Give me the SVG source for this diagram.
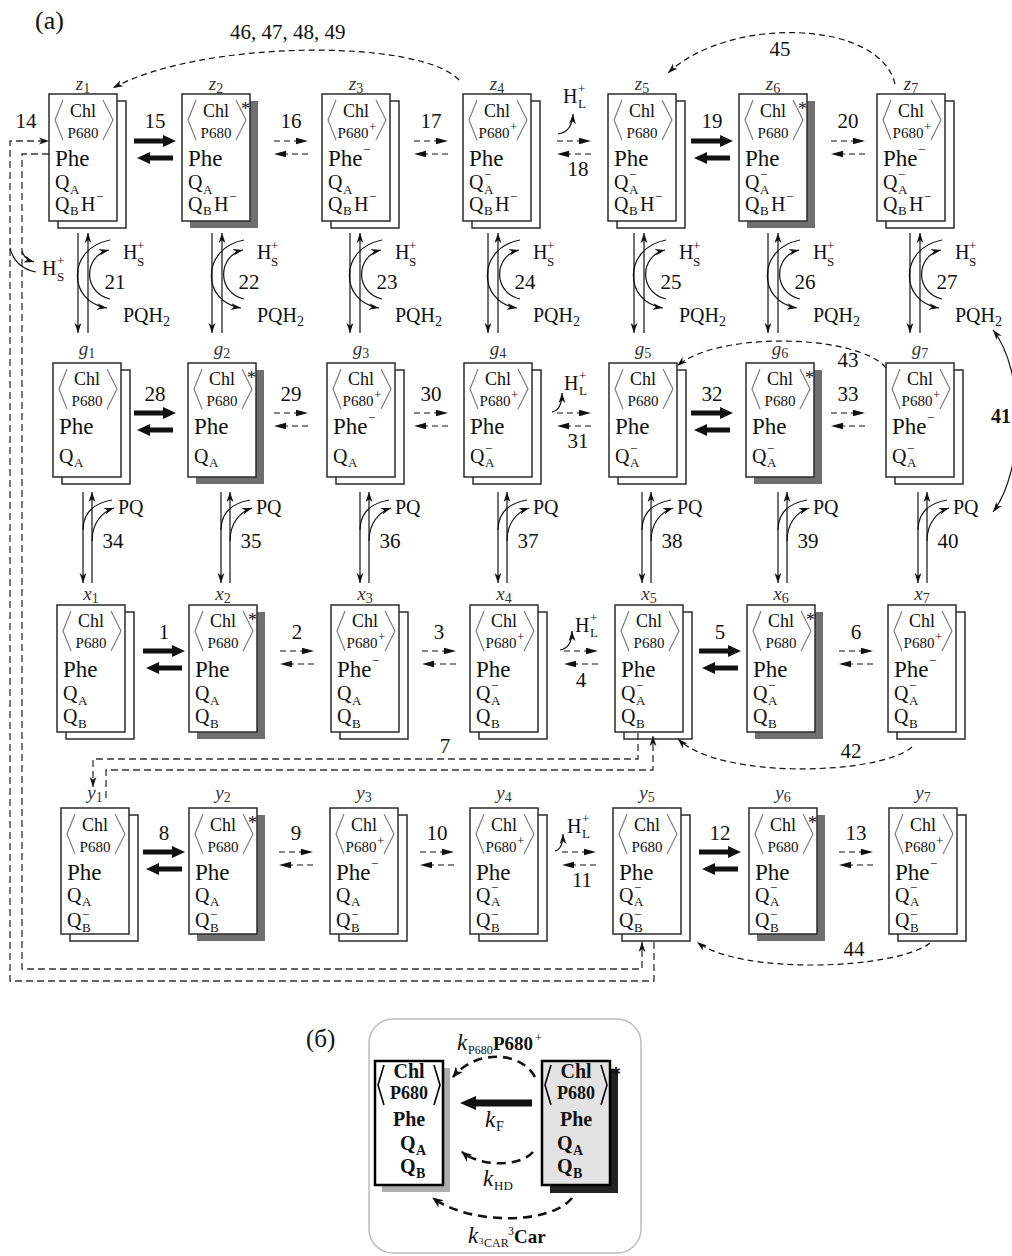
<svg xmlns="http://www.w3.org/2000/svg" width="1012" height="1256" viewBox="0 0 1012 1256">
<style>
text{font-family:"Liberation Serif","Times New Roman",serif;fill:#111}
.fr,.bk{fill:#fff;stroke:#2b2b2b;stroke-width:1.5}
.sh{fill:#6f6f6f}
.c{font-size:18px;text-anchor:middle}
.p{font-size:15px;text-anchor:middle}
.f{font-size:23px}
.q{font-size:20px}
.s{font-size:13px}
.st{font-size:18px;fill:#111}
.lb{font-size:19px;font-style:italic;fill:#333;text-anchor:middle}
.lb tspan{font-style:normal;font-size:14px}
.n{font-size:21px;text-anchor:middle}
.ln{stroke:#111;stroke-width:1.2;fill:none}
.da{stroke:#111;stroke-width:1.2;fill:none;stroke-dasharray:6 4}
.dl{stroke:#333;stroke-width:1.3;fill:none;stroke-dasharray:7 4}
.pb{font-weight:bold}
.pd{stroke:#111;stroke-width:2.6;fill:none;stroke-dasharray:9 6}
.k{font-style:italic;font-size:23px}
</style>
<defs>
<marker id="a" viewBox="0 0 10 8" markerWidth="10" markerHeight="8" refX="10" refY="4" orient="auto" markerUnits="userSpaceOnUse"><path d="M0,0.6 L10,4 L0,7.4 L2.8,4 Z" fill="#111"/></marker>
<marker id="a2" viewBox="0 0 10 8" markerWidth="10" markerHeight="8" refX="10" refY="4" orient="auto-start-reverse" markerUnits="userSpaceOnUse"><path d="M0,0.6 L10,4 L0,7.4 L2.8,4 Z" fill="#111"/></marker>
<marker id="pa" viewBox="0 0 11 9" markerWidth="11" markerHeight="9" refX="10" refY="4.5" orient="auto" markerUnits="userSpaceOnUse"><path d="M0,0 L11,4.5 L0,9 L3,4.5 Z" fill="#111"/></marker>
<path id="br" d="M14,6 L6,26 L14,46 M54,6 L64,26 L54,46" fill="none" stroke="#777" stroke-width="1.1"/>
<path id="bR" d="M-21,-2.4 H8 V-6 L21,0 L8,6 V2.4 H-21 Z" fill="#111"/>
<path id="bL" d="M18,-2.4 H-5 V-6 L-18,0 L-5,6 V2.4 H18 Z" fill="#111"/>
<g id="dR"><line x1="-17" y1="0" x2="6" y2="0" class="da"/><path d="M5,-3.2 L17,0 L5,3.2 Z" fill="#111"/></g>
<g id="dL"><line x1="17" y1="0" x2="-6" y2="0" class="da"/><path d="M-5,-3.2 L-17,0 L-5,3.2 Z" fill="#111"/></g>
</defs>
<rect width="1012" height="1256" fill="#fff"/>
<text x="35" y="29" font-size="26">(a)</text>

<!-- Row z -->
<g id="z1"><rect class="bk" x="58" y="101" width="68" height="127"/><rect class="fr" x="49" y="94" width="68" height="127"/><use href="#br" x="49" y="94"/><text class="c" x="83" y="117">Chl</text><text class="p" x="83" y="138">P680</text><text class="f" x="55" y="166">Phe</text><text class="q" x="55" y="189">Q</text><text class="s" x="70" y="194">A</text><text class="q" x="55" y="211">Q</text><text class="s" x="70" y="215">B</text><text class="q" x="81" y="211">H</text><text class="s" x="96" y="201">−</text><text class="lb" x="83" y="90">z<tspan dy="3">1</tspan></text></g>
<g id="z2"><rect class="sh" x="190" y="101" width="68" height="127"/><rect class="fr" x="182" y="94" width="68" height="127"/><use href="#br" x="182" y="94"/><text class="st" x="241" y="115">*</text><text class="c" x="216" y="117">Chl</text><text class="p" x="216" y="138">P680</text><text class="f" x="188" y="166">Phe</text><text class="q" x="188" y="189">Q</text><text class="s" x="203" y="194">A</text><text class="q" x="188" y="211">Q</text><text class="s" x="203" y="215">B</text><text class="q" x="214" y="211">H</text><text class="s" x="229" y="201">−</text><text class="lb" x="216" y="90">z<tspan dy="3">2</tspan></text></g>
<g id="z3"><rect class="bk" x="331" y="101" width="68" height="127"/><rect class="fr" x="322" y="94" width="68" height="127"/><use href="#br" x="322" y="94"/><text class="c" x="356" y="117">Chl</text><text class="p" x="353" y="138">P680</text><text class="s" x="369" y="131">+</text><text class="f" x="328" y="166">Phe</text><text class="s" x="363" y="154">−</text><text class="q" x="328" y="189">Q</text><text class="s" x="343" y="194">A</text><text class="q" x="328" y="211">Q</text><text class="s" x="343" y="215">B</text><text class="q" x="354" y="211">H</text><text class="s" x="369" y="201">−</text><text class="lb" x="356" y="90">z<tspan dy="3">3</tspan></text></g>
<g id="z4"><rect class="bk" x="472" y="101" width="68" height="127"/><rect class="fr" x="463" y="94" width="68" height="127"/><use href="#br" x="463" y="94"/><text class="c" x="497" y="117">Chl</text><text class="p" x="494" y="138">P680</text><text class="s" x="510" y="131">+</text><text class="f" x="469" y="166">Phe</text><text class="q" x="469" y="189">Q</text><text class="s" x="484" y="179">−</text><text class="s" x="484" y="194">A</text><text class="q" x="469" y="211">Q</text><text class="s" x="484" y="215">B</text><text class="q" x="495" y="211">H</text><text class="s" x="510" y="201">−</text><text class="lb" x="497" y="90">z<tspan dy="3">4</tspan></text></g>
<g id="z5"><rect class="bk" x="617" y="101" width="68" height="127"/><rect class="fr" x="608" y="94" width="68" height="127"/><use href="#br" x="608" y="94"/><text class="c" x="642" y="117">Chl</text><text class="p" x="642" y="138">P680</text><text class="f" x="614" y="166">Phe</text><text class="q" x="614" y="189">Q</text><text class="s" x="629" y="179">−</text><text class="s" x="629" y="194">A</text><text class="q" x="614" y="211">Q</text><text class="s" x="629" y="215">B</text><text class="q" x="640" y="211">H</text><text class="s" x="655" y="201">−</text><text class="lb" x="642" y="90">z<tspan dy="3">5</tspan></text></g>
<g id="z6"><rect class="sh" x="747" y="101" width="68" height="127"/><rect class="fr" x="739" y="94" width="68" height="127"/><use href="#br" x="739" y="94"/><text class="st" x="798" y="115">*</text><text class="c" x="773" y="117">Chl</text><text class="p" x="773" y="138">P680</text><text class="f" x="745" y="166">Phe</text><text class="q" x="745" y="189">Q</text><text class="s" x="760" y="179">−</text><text class="s" x="760" y="194">A</text><text class="q" x="745" y="211">Q</text><text class="s" x="760" y="215">B</text><text class="q" x="771" y="211">H</text><text class="s" x="786" y="201">−</text><text class="lb" x="773" y="90">z<tspan dy="3">6</tspan></text></g>
<g id="z7"><rect class="bk" x="886" y="101" width="68" height="127"/><rect class="fr" x="877" y="94" width="68" height="127"/><use href="#br" x="877" y="94"/><text class="c" x="911" y="117">Chl</text><text class="p" x="908" y="138">P680</text><text class="s" x="924" y="131">+</text><text class="f" x="883" y="166">Phe</text><text class="s" x="918" y="154">−</text><text class="q" x="883" y="189">Q</text><text class="s" x="898" y="179">−</text><text class="s" x="898" y="194">A</text><text class="q" x="883" y="211">Q</text><text class="s" x="898" y="215">B</text><text class="q" x="909" y="211">H</text><text class="s" x="924" y="201">−</text><text class="lb" x="911" y="90">z<tspan dy="3">7</tspan></text></g>

<!-- Row g -->
<g id="g1"><rect class="bk" x="62" y="370" width="68" height="114"/><rect class="fr" x="53" y="363" width="68" height="114"/><use href="#br" x="53" y="363"/><text class="c" x="87" y="385">Chl</text><text class="p" x="87" y="406">P680</text><text class="f" x="59" y="434">Phe</text><text class="q" x="59" y="463">Q</text><text class="s" x="74" y="467">A</text><text class="lb" x="87" y="355">g<tspan dy="3">1</tspan></text></g>
<g id="g2"><rect class="sh" x="196" y="370" width="68" height="114"/><rect class="fr" x="188" y="363" width="68" height="114"/><use href="#br" x="188" y="363"/><text class="st" x="247" y="384">*</text><text class="c" x="222" y="385">Chl</text><text class="p" x="222" y="406">P680</text><text class="f" x="194" y="434">Phe</text><text class="q" x="194" y="463">Q</text><text class="s" x="209" y="467">A</text><text class="lb" x="222" y="355">g<tspan dy="3">2</tspan></text></g>
<g id="g3"><rect class="bk" x="336" y="370" width="68" height="114"/><rect class="fr" x="327" y="363" width="68" height="114"/><use href="#br" x="327" y="363"/><text class="c" x="361" y="385">Chl</text><text class="p" x="358" y="406">P680</text><text class="s" x="374" y="399">+</text><text class="f" x="333" y="434">Phe</text><text class="s" x="368" y="422">−</text><text class="q" x="333" y="463">Q</text><text class="s" x="348" y="467">A</text><text class="lb" x="361" y="355">g<tspan dy="3">3</tspan></text></g>
<g id="g4"><rect class="bk" x="473" y="370" width="68" height="114"/><rect class="fr" x="464" y="363" width="68" height="114"/><use href="#br" x="464" y="363"/><text class="c" x="498" y="385">Chl</text><text class="p" x="495" y="406">P680</text><text class="s" x="511" y="399">+</text><text class="f" x="470" y="434">Phe</text><text class="q" x="470" y="463">Q</text><text class="s" x="485" y="453">−</text><text class="s" x="485" y="467">A</text><text class="lb" x="498" y="355">g<tspan dy="3">4</tspan></text></g>
<g id="g5"><rect class="bk" x="618" y="370" width="68" height="114"/><rect class="fr" x="609" y="363" width="68" height="114"/><use href="#br" x="609" y="363"/><text class="c" x="643" y="385">Chl</text><text class="p" x="643" y="406">P680</text><text class="f" x="615" y="434">Phe</text><text class="q" x="615" y="463">Q</text><text class="s" x="630" y="453">−</text><text class="s" x="630" y="467">A</text><text class="lb" x="643" y="355">g<tspan dy="3">5</tspan></text></g>
<g id="g6"><rect class="sh" x="754" y="370" width="68" height="114"/><rect class="fr" x="746" y="363" width="68" height="114"/><use href="#br" x="746" y="363"/><text class="st" x="805" y="384">*</text><text class="c" x="780" y="385">Chl</text><text class="p" x="780" y="406">P680</text><text class="f" x="752" y="434">Phe</text><text class="q" x="752" y="463">Q</text><text class="s" x="767" y="453">−</text><text class="s" x="767" y="467">A</text><text class="lb" x="780" y="355">g<tspan dy="3">6</tspan></text></g>
<g id="g7"><rect class="bk" x="895" y="370" width="68" height="114"/><rect class="fr" x="886" y="363" width="68" height="114"/><use href="#br" x="886" y="363"/><text class="c" x="920" y="385">Chl</text><text class="p" x="917" y="406">P680</text><text class="s" x="933" y="399">+</text><text class="f" x="892" y="434">Phe</text><text class="s" x="927" y="422">−</text><text class="q" x="892" y="463">Q</text><text class="s" x="907" y="453">−</text><text class="s" x="907" y="467">A</text><text class="lb" x="920" y="355">g<tspan dy="3">7</tspan></text></g>

<!-- Row x -->
<g id="x1"><rect class="bk" x="66" y="612" width="68" height="127"/><rect class="fr" x="57" y="605" width="68" height="127"/><use href="#br" x="57" y="605"/><text class="c" x="91" y="627">Chl</text><text class="p" x="91" y="648">P680</text><text class="f" x="63" y="677">Phe</text><text class="q" x="63" y="700">Q</text><text class="s" x="78" y="705">A</text><text class="q" x="63" y="723">Q</text><text class="s" x="78" y="728">B</text><text class="lb" x="91" y="600">x<tspan dy="3">1</tspan></text></g>
<g id="x2"><rect class="sh" x="197" y="612" width="68" height="127"/><rect class="fr" x="189" y="605" width="68" height="127"/><use href="#br" x="189" y="605"/><text class="st" x="248" y="626">*</text><text class="c" x="223" y="627">Chl</text><text class="p" x="223" y="648">P680</text><text class="f" x="195" y="677">Phe</text><text class="q" x="195" y="700">Q</text><text class="s" x="210" y="705">A</text><text class="q" x="195" y="723">Q</text><text class="s" x="210" y="728">B</text><text class="lb" x="223" y="600">x<tspan dy="3">2</tspan></text></g>
<g id="x3"><rect class="bk" x="340" y="612" width="68" height="127"/><rect class="fr" x="331" y="605" width="68" height="127"/><use href="#br" x="331" y="605"/><text class="c" x="365" y="627">Chl</text><text class="p" x="362" y="648">P680</text><text class="s" x="378" y="641">+</text><text class="f" x="337" y="677">Phe</text><text class="s" x="372" y="665">−</text><text class="q" x="337" y="700">Q</text><text class="s" x="352" y="705">A</text><text class="q" x="337" y="723">Q</text><text class="s" x="352" y="728">B</text><text class="lb" x="365" y="600">x<tspan dy="3">3</tspan></text></g>
<g id="x4"><rect class="bk" x="479" y="612" width="68" height="127"/><rect class="fr" x="470" y="605" width="68" height="127"/><use href="#br" x="470" y="605"/><text class="c" x="504" y="627">Chl</text><text class="p" x="501" y="648">P680</text><text class="s" x="517" y="641">+</text><text class="f" x="476" y="677">Phe</text><text class="q" x="476" y="700">Q</text><text class="s" x="491" y="690">−</text><text class="s" x="491" y="705">A</text><text class="q" x="476" y="723">Q</text><text class="s" x="491" y="728">B</text><text class="lb" x="504" y="600">x<tspan dy="3">4</tspan></text></g>
<g id="x5"><rect class="bk" x="624" y="612" width="68" height="127"/><rect class="fr" x="615" y="605" width="68" height="127"/><use href="#br" x="615" y="605"/><text class="c" x="649" y="627">Chl</text><text class="p" x="649" y="648">P680</text><text class="f" x="621" y="677">Phe</text><text class="q" x="621" y="700">Q</text><text class="s" x="636" y="690">−</text><text class="s" x="636" y="705">A</text><text class="q" x="621" y="723">Q</text><text class="s" x="636" y="728">B</text><text class="lb" x="649" y="600">x<tspan dy="3">5</tspan></text></g>
<g id="x6"><rect class="sh" x="755" y="612" width="68" height="127"/><rect class="fr" x="747" y="605" width="68" height="127"/><use href="#br" x="747" y="605"/><text class="st" x="806" y="626">*</text><text class="c" x="781" y="627">Chl</text><text class="p" x="781" y="648">P680</text><text class="f" x="753" y="677">Phe</text><text class="q" x="753" y="700">Q</text><text class="s" x="768" y="690">−</text><text class="s" x="768" y="705">A</text><text class="q" x="753" y="723">Q</text><text class="s" x="768" y="728">B</text><text class="lb" x="781" y="600">x<tspan dy="3">6</tspan></text></g>
<g id="x7"><rect class="bk" x="897" y="612" width="68" height="127"/><rect class="fr" x="888" y="605" width="68" height="127"/><use href="#br" x="888" y="605"/><text class="c" x="922" y="627">Chl</text><text class="p" x="919" y="648">P680</text><text class="s" x="935" y="641">+</text><text class="f" x="894" y="677">Phe</text><text class="s" x="929" y="665">−</text><text class="q" x="894" y="700">Q</text><text class="s" x="909" y="690">−</text><text class="s" x="909" y="705">A</text><text class="q" x="894" y="723">Q</text><text class="s" x="909" y="728">B</text><text class="lb" x="922" y="600">x<tspan dy="3">7</tspan></text></g>

<!-- Row y -->
<g id="y1"><rect class="bk" x="70" y="815" width="68" height="126"/><rect class="fr" x="61" y="808" width="68" height="126"/><use href="#br" x="61" y="808"/><text class="c" x="95" y="831">Chl</text><text class="p" x="95" y="852">P680</text><text class="f" x="67" y="880">Phe</text><text class="q" x="67" y="902">Q</text><text class="s" x="82" y="906">A</text><text class="q" x="67" y="927">Q</text><text class="s" x="82" y="919">−</text><text class="s" x="82" y="932">B</text><text class="lb" x="95" y="799">y<tspan dy="3">1</tspan></text></g>
<g id="y2"><rect class="sh" x="197" y="815" width="68" height="126"/><rect class="fr" x="189" y="808" width="68" height="126"/><use href="#br" x="189" y="808"/><text class="st" x="248" y="829">*</text><text class="c" x="223" y="831">Chl</text><text class="p" x="223" y="852">P680</text><text class="f" x="195" y="880">Phe</text><text class="q" x="195" y="902">Q</text><text class="s" x="210" y="906">A</text><text class="q" x="195" y="927">Q</text><text class="s" x="210" y="919">−</text><text class="s" x="210" y="932">B</text><text class="lb" x="223" y="799">y<tspan dy="3">2</tspan></text></g>
<g id="y3"><rect class="bk" x="339" y="815" width="68" height="126"/><rect class="fr" x="330" y="808" width="68" height="126"/><use href="#br" x="330" y="808"/><text class="c" x="364" y="831">Chl</text><text class="p" x="361" y="852">P680</text><text class="s" x="377" y="845">+</text><text class="f" x="336" y="880">Phe</text><text class="s" x="371" y="868">−</text><text class="q" x="336" y="902">Q</text><text class="s" x="351" y="906">A</text><text class="q" x="336" y="927">Q</text><text class="s" x="351" y="919">−</text><text class="s" x="351" y="932">B</text><text class="lb" x="364" y="799">y<tspan dy="3">3</tspan></text></g>
<g id="y4"><rect class="bk" x="479" y="815" width="68" height="126"/><rect class="fr" x="470" y="808" width="68" height="126"/><use href="#br" x="470" y="808"/><text class="c" x="504" y="831">Chl</text><text class="p" x="501" y="852">P680</text><text class="s" x="517" y="845">+</text><text class="f" x="476" y="880">Phe</text><text class="q" x="476" y="902">Q</text><text class="s" x="491" y="892">−</text><text class="s" x="491" y="906">A</text><text class="q" x="476" y="927">Q</text><text class="s" x="491" y="919">−</text><text class="s" x="491" y="932">B</text><text class="lb" x="504" y="799">y<tspan dy="3">4</tspan></text></g>
<g id="y5"><rect class="bk" x="622" y="815" width="68" height="126"/><rect class="fr" x="613" y="808" width="68" height="126"/><use href="#br" x="613" y="808"/><text class="c" x="647" y="831">Chl</text><text class="p" x="647" y="852">P680</text><text class="f" x="619" y="880">Phe</text><text class="q" x="619" y="902">Q</text><text class="s" x="634" y="892">−</text><text class="s" x="634" y="906">A</text><text class="q" x="619" y="927">Q</text><text class="s" x="634" y="919">−</text><text class="s" x="634" y="932">B</text><text class="lb" x="647" y="799">y<tspan dy="3">5</tspan></text></g>
<g id="y6"><rect class="sh" x="757" y="815" width="68" height="126"/><rect class="fr" x="749" y="808" width="68" height="126"/><use href="#br" x="749" y="808"/><text class="st" x="808" y="829">*</text><text class="c" x="783" y="831">Chl</text><text class="p" x="783" y="852">P680</text><text class="f" x="755" y="880">Phe</text><text class="q" x="755" y="902">Q</text><text class="s" x="770" y="892">−</text><text class="s" x="770" y="906">A</text><text class="q" x="755" y="927">Q</text><text class="s" x="770" y="919">−</text><text class="s" x="770" y="932">B</text><text class="lb" x="783" y="799">y<tspan dy="3">6</tspan></text></g>
<g id="y7"><rect class="bk" x="898" y="815" width="68" height="126"/><rect class="fr" x="889" y="808" width="68" height="126"/><use href="#br" x="889" y="808"/><text class="c" x="923" y="831">Chl</text><text class="p" x="920" y="852">P680</text><text class="s" x="936" y="845">+</text><text class="f" x="895" y="880">Phe</text><text class="s" x="930" y="868">−</text><text class="q" x="895" y="902">Q</text><text class="s" x="910" y="892">−</text><text class="s" x="910" y="906">A</text><text class="q" x="895" y="927">Q</text><text class="s" x="910" y="919">−</text><text class="s" x="910" y="932">B</text><text class="lb" x="923" y="799">y<tspan dy="3">7</tspan></text></g>

<g id="connectors">
<!-- row z horizontal -->
<use href="#bR" x="155" y="141"/><use href="#bL" x="155" y="158"/><text class="n" x="155" y="128">15</text>
<use href="#dR" x="291" y="141"/><use href="#dL" x="291" y="154"/><text class="n" x="291" y="128">16</text>
<use href="#dR" x="431" y="141"/><use href="#dL" x="431" y="154"/><text class="n" x="431" y="128">17</text>
<use href="#dR" x="574" y="141"/><use href="#dL" x="574" y="154"/><text class="n" x="578" y="176">18</text>
<text class="q" x="563" y="103">H</text><text class="s" x="578" y="93">+</text><text class="s" x="578" y="108">L</text><path class="ln" d="M558,134 Q572,132 573,114" marker-end="url(#a)"/>
<use href="#bR" x="712" y="141"/><use href="#bL" x="712" y="158"/><text class="n" x="712" y="128">19</text>
<use href="#dR" x="848" y="141"/><use href="#dL" x="848" y="154"/><text class="n" x="848" y="128">20</text>
<!-- row g horizontal -->
<use href="#bR" x="155" y="413"/><use href="#bL" x="155" y="430"/><text class="n" x="155" y="401">28</text>
<use href="#dR" x="291" y="413"/><use href="#dL" x="291" y="426"/><text class="n" x="291" y="401">29</text>
<use href="#dR" x="431" y="413"/><use href="#dL" x="431" y="426"/><text class="n" x="431" y="401">30</text>
<use href="#dR" x="574" y="413"/><use href="#dL" x="574" y="426"/><text class="n" x="578" y="448">31</text>
<text class="q" x="564" y="390">H</text><text class="s" x="579" y="380">+</text><text class="s" x="579" y="395">L</text><path class="ln" d="M552,412 Q562,410 562,393" marker-end="url(#a)"/>
<use href="#bR" x="712" y="413"/><use href="#bL" x="712" y="430"/><text class="n" x="712" y="401">32</text>
<use href="#dR" x="848" y="413"/><use href="#dL" x="848" y="426"/><text class="n" x="848" y="401">33</text>
<!-- row x horizontal -->
<use href="#bR" x="164" y="651"/><use href="#bL" x="164" y="668"/><text class="n" x="164" y="639">1</text>
<use href="#dR" x="297" y="651"/><use href="#dL" x="297" y="664"/><text class="n" x="297" y="639">2</text>
<use href="#dR" x="439" y="651"/><use href="#dL" x="439" y="664"/><text class="n" x="439" y="639">3</text>
<use href="#dR" x="581" y="651"/><use href="#dL" x="581" y="664"/><text class="n" x="581" y="687">4</text>
<text class="q" x="575" y="632">H</text><text class="s" x="590" y="622">+</text><text class="s" x="590" y="637">L</text><path class="ln" d="M560,650 Q572,648 572,631" marker-end="url(#a)"/>
<use href="#bR" x="720" y="651"/><use href="#bL" x="720" y="668"/><text class="n" x="720" y="639">5</text>
<use href="#dR" x="856" y="651"/><use href="#dL" x="856" y="664"/><text class="n" x="856" y="639">6</text>
<!-- row y horizontal -->
<use href="#bR" x="164" y="852"/><use href="#bL" x="164" y="869"/><text class="n" x="164" y="840">8</text>
<use href="#dR" x="296" y="852"/><use href="#dL" x="296" y="865"/><text class="n" x="296" y="840">9</text>
<use href="#dR" x="437" y="852"/><use href="#dL" x="437" y="865"/><text class="n" x="437" y="840">10</text>
<use href="#dR" x="579" y="852"/><use href="#dL" x="579" y="865"/><text class="n" x="582" y="887">11</text>
<text class="q" x="567" y="833">H</text><text class="s" x="582" y="823">+</text><text class="s" x="582" y="838">L</text><path class="ln" d="M555,851 Q563,849 563,834" marker-end="url(#a)"/>
<use href="#bR" x="720" y="852"/><use href="#bL" x="720" y="869"/><text class="n" x="720" y="840">12</text>
<use href="#dR" x="856" y="852"/><use href="#dL" x="856" y="865"/><text class="n" x="856" y="840">13</text>

<!-- z to g verticals -->
<g id="v21"><line class="ln" x1="78" y1="233" x2="78" y2="333" marker-end="url(#a)"/><line class="ln" x1="88" y1="333" x2="88" y2="233" marker-end="url(#a)"/><path class="ln" d="M110,240 C67,248 67,302 107,308" marker-end="url(#a)"/><path class="ln" d="M110,299 C83,293 83,256 109,250" marker-end="url(#a)"/><text class="q" x="123" y="259">H</text><text class="s" x="137" y="250">+</text><text class="s" x="137" y="266">S</text><text class="n" x="115" y="289">21</text><text class="q" x="123" y="322">PQH<tspan font-size="14" dy="4">2</tspan></text></g>
<g id="v22"><line class="ln" x1="212" y1="233" x2="212" y2="333" marker-end="url(#a)"/><line class="ln" x1="222" y1="333" x2="222" y2="233" marker-end="url(#a)"/><path class="ln" d="M244,240 C201,248 201,302 241,308" marker-end="url(#a)"/><path class="ln" d="M244,299 C217,293 217,256 243,250" marker-end="url(#a)"/><text class="q" x="257" y="259">H</text><text class="s" x="271" y="250">+</text><text class="s" x="271" y="266">S</text><text class="n" x="249" y="289">22</text><text class="q" x="257" y="322">PQH<tspan font-size="14" dy="4">2</tspan></text></g>
<g id="v23"><line class="ln" x1="350" y1="233" x2="350" y2="333" marker-end="url(#a)"/><line class="ln" x1="360" y1="333" x2="360" y2="233" marker-end="url(#a)"/><path class="ln" d="M382,240 C339,248 339,302 379,308" marker-end="url(#a)"/><path class="ln" d="M382,299 C355,293 355,256 381,250" marker-end="url(#a)"/><text class="q" x="395" y="259">H</text><text class="s" x="409" y="250">+</text><text class="s" x="409" y="266">S</text><text class="n" x="387" y="289">23</text><text class="q" x="395" y="322">PQH<tspan font-size="14" dy="4">2</tspan></text></g>
<g id="v24"><line class="ln" x1="488" y1="233" x2="488" y2="333" marker-end="url(#a)"/><line class="ln" x1="498" y1="333" x2="498" y2="233" marker-end="url(#a)"/><path class="ln" d="M520,240 C477,248 477,302 517,308" marker-end="url(#a)"/><path class="ln" d="M520,299 C493,293 493,256 519,250" marker-end="url(#a)"/><text class="q" x="533" y="259">H</text><text class="s" x="547" y="250">+</text><text class="s" x="547" y="266">S</text><text class="n" x="525" y="289">24</text><text class="q" x="533" y="322">PQH<tspan font-size="14" dy="4">2</tspan></text></g>
<g id="v25"><line class="ln" x1="634" y1="233" x2="634" y2="333" marker-end="url(#a)"/><line class="ln" x1="644" y1="333" x2="644" y2="233" marker-end="url(#a)"/><path class="ln" d="M666,240 C623,248 623,302 663,308" marker-end="url(#a)"/><path class="ln" d="M666,299 C639,293 639,256 665,250" marker-end="url(#a)"/><text class="q" x="679" y="259">H</text><text class="s" x="693" y="250">+</text><text class="s" x="693" y="266">S</text><text class="n" x="671" y="289">25</text><text class="q" x="679" y="322">PQH<tspan font-size="14" dy="4">2</tspan></text></g>
<g id="v26"><line class="ln" x1="768" y1="233" x2="768" y2="333" marker-end="url(#a)"/><line class="ln" x1="778" y1="333" x2="778" y2="233" marker-end="url(#a)"/><path class="ln" d="M800,240 C757,248 757,302 797,308" marker-end="url(#a)"/><path class="ln" d="M800,299 C773,293 773,256 799,250" marker-end="url(#a)"/><text class="q" x="813" y="259">H</text><text class="s" x="827" y="250">+</text><text class="s" x="827" y="266">S</text><text class="n" x="805" y="289">26</text><text class="q" x="813" y="322">PQH<tspan font-size="14" dy="4">2</tspan></text></g>
<g id="v27"><line class="ln" x1="910" y1="233" x2="910" y2="333" marker-end="url(#a)"/><line class="ln" x1="920" y1="333" x2="920" y2="233" marker-end="url(#a)"/><path class="ln" d="M942,240 C899,248 899,302 939,308" marker-end="url(#a)"/><path class="ln" d="M942,299 C915,293 915,256 941,250" marker-end="url(#a)"/><text class="q" x="955" y="259">H</text><text class="s" x="969" y="250">+</text><text class="s" x="969" y="266">S</text><text class="n" x="947" y="289">27</text><text class="q" x="955" y="322">PQH<tspan font-size="14" dy="4">2</tspan></text></g>

<!-- g to x verticals -->
<g id="v34"><line class="ln" x1="83" y1="492" x2="83" y2="583" marker-end="url(#a)"/><line class="ln" x1="92" y1="583" x2="92" y2="492" marker-end="url(#a)"/><path class="ln" d="M83,530 C83,512 95,503 112,500"/><path class="ln" d="M92,541 C92,523 102,512 114,508" marker-end="url(#a)"/><text class="q" x="118" y="514">PQ</text><text class="n" x="113" y="548">34</text></g>
<g id="v35"><line class="ln" x1="221" y1="492" x2="221" y2="583" marker-end="url(#a)"/><line class="ln" x1="230" y1="583" x2="230" y2="492" marker-end="url(#a)"/><path class="ln" d="M221,530 C221,512 233,503 250,500"/><path class="ln" d="M230,541 C230,523 240,512 252,508" marker-end="url(#a)"/><text class="q" x="256" y="514">PQ</text><text class="n" x="251" y="548">35</text></g>
<g id="v36"><line class="ln" x1="360" y1="492" x2="360" y2="583" marker-end="url(#a)"/><line class="ln" x1="369" y1="583" x2="369" y2="492" marker-end="url(#a)"/><path class="ln" d="M360,530 C360,512 372,503 389,500"/><path class="ln" d="M369,541 C369,523 379,512 391,508" marker-end="url(#a)"/><text class="q" x="395" y="514">PQ</text><text class="n" x="390" y="548">36</text></g>
<g id="v37"><line class="ln" x1="498" y1="492" x2="498" y2="583" marker-end="url(#a)"/><line class="ln" x1="507" y1="583" x2="507" y2="492" marker-end="url(#a)"/><path class="ln" d="M498,530 C498,512 510,503 527,500"/><path class="ln" d="M507,541 C507,523 517,512 529,508" marker-end="url(#a)"/><text class="q" x="533" y="514">PQ</text><text class="n" x="528" y="548">37</text></g>
<g id="v38"><line class="ln" x1="642" y1="492" x2="642" y2="583" marker-end="url(#a)"/><line class="ln" x1="651" y1="583" x2="651" y2="492" marker-end="url(#a)"/><path class="ln" d="M642,530 C642,512 654,503 671,500"/><path class="ln" d="M651,541 C651,523 661,512 673,508" marker-end="url(#a)"/><text class="q" x="677" y="514">PQ</text><text class="n" x="672" y="548">38</text></g>
<g id="v39"><line class="ln" x1="778" y1="492" x2="778" y2="583" marker-end="url(#a)"/><line class="ln" x1="787" y1="583" x2="787" y2="492" marker-end="url(#a)"/><path class="ln" d="M778,530 C778,512 790,503 807,500"/><path class="ln" d="M787,541 C787,523 797,512 809,508" marker-end="url(#a)"/><text class="q" x="813" y="514">PQ</text><text class="n" x="808" y="548">39</text></g>
<g id="v40"><line class="ln" x1="918" y1="492" x2="918" y2="583" marker-end="url(#a)"/><line class="ln" x1="927" y1="583" x2="927" y2="492" marker-end="url(#a)"/><path class="ln" d="M918,530 C918,512 930,503 947,500"/><path class="ln" d="M927,541 C927,523 937,512 949,508" marker-end="url(#a)"/><text class="q" x="953" y="514">PQ</text><text class="n" x="948" y="548">40</text></g>

<!-- curved dashed arcs -->
<path class="da" d="M459,80 C420,38 200,40 113,88" marker-end="url(#a)"/><text x="230" y="39" font-size="21">46, 47, 48, 49</text>
<path class="da" d="M895,84 C880,20 730,15 668,73" marker-end="url(#a)"/><text class="n" x="780" y="56">45</text>
<path class="da" d="M886,368 C860,335 720,330 677,366" marker-end="url(#a)"/><text class="n" x="848" y="367">43</text>
<path class="da" d="M912,747 C880,775 720,780 678,739" marker-end="url(#a)"/><text class="n" x="851" y="758">42</text>
<path class="da" d="M930,943 C895,970 740,975 697,942" marker-end="url(#a)"/><text class="n" x="854" y="956">44</text>
<path class="ln" d="M993,330 C1025,370 1025,470 993,512" marker-start="url(#a2)" marker-end="url(#a2)"/><text x="991" y="423" font-size="20" font-weight="bold">41</text>
<!-- long dashed 7 and 14 -->
<path class="dl" d="M638,733 V759 H93 V787" marker-end="url(#a)"/>
<path class="dl" d="M106,798 V770 H653 V736" marker-end="url(#a)"/>
<text class="n" x="445" y="753">7</text>
<path class="dl" d="M49,154 H22 V969 H642 V942" marker-end="url(#a)"/>
<path class="dl" d="M654,942 V981 H10 V141 H49" marker-end="url(#a)"/>
<text class="n" x="26" y="128">14</text>
<path class="ln" d="M10,248 Q15,268 36,272"/><path class="ln" d="M22,251 Q24,259 34,262" marker-end="url(#a)"/>
<text class="q" x="42" y="275">H</text><text class="s" x="57" y="265">+</text><text class="s" x="57" y="281">S</text>
</g>

<!-- panel b -->
<text x="306" y="1047" font-size="25">(б)</text>
<rect x="369" y="1019" width="272" height="234" rx="24" fill="#fff" stroke="#bdbdbd" stroke-width="1.5"/>
<g id="ground">
<rect x="382" y="1068" width="68" height="124" fill="#adadad"/>
<rect x="375" y="1061" width="68" height="124" fill="#fff" stroke="#000" stroke-width="2.5"/>
<path d="M384,1065 L378,1085 L384,1105 M434,1065 L440,1085 L434,1105" fill="none" stroke="#000" stroke-width="1.6"/>
<text class="pb" x="409" y="1078" font-size="20" text-anchor="middle">Chl</text>
<text class="pb" x="409" y="1099" font-size="18" text-anchor="middle">P680</text>
<text class="pb" x="393" y="1126" font-size="20">Phe</text>
<text class="pb" x="400" y="1150" font-size="20">Q</text><text class="pb" x="416" y="1155" font-size="14">A</text>
<text class="pb" x="400" y="1173" font-size="20">Q</text><text class="pb" x="416" y="1178" font-size="14">B</text>
</g>
<g id="excited">
<rect x="550" y="1069" width="68" height="124" fill="#222"/>
<rect x="542" y="1061" width="68" height="124" fill="#e3e3e3" stroke="#000" stroke-width="2.5"/>
<path d="M551,1065 L545,1085 L551,1105 M601,1065 L607,1085 L601,1105" fill="none" stroke="#000" stroke-width="1.6"/>
<text class="pb" x="611" y="1081" font-size="20">*</text>
<text class="pb" x="576" y="1078" font-size="20" text-anchor="middle">Chl</text>
<text class="pb" x="576" y="1099" font-size="18" text-anchor="middle">P680</text>
<text class="pb" x="560" y="1126" font-size="20">Phe</text>
<text class="pb" x="557" y="1150" font-size="20">Q</text><text class="pb" x="573" y="1155" font-size="14">A</text>
<text class="pb" x="557" y="1173" font-size="20">Q</text><text class="pb" x="573" y="1178" font-size="14">B</text>
</g>
<g id="panel-connectors">
<path d="M532,1099.5 H476 V1096 L460,1103 L476,1110 V1106.5 H532 Z" fill="#111"/>
<text class="k" x="485" y="1127">k</text><text x="496" y="1131" font-size="14">F</text>
<path class="pd" d="M535,1077 C520,1050 475,1050 453,1077" marker-end="url(#pa)"/>
<text class="k" x="457" y="1050">k</text><text x="468" y="1054" font-size="12">P680</text><text class="pb" x="493" y="1050" font-size="19">P680</text><text x="535" y="1042" font-size="12">+</text>
<path class="pd" d="M533,1152 C520,1167 480,1167 462,1152" marker-end="url(#pa)"/>
<text class="k" x="483" y="1186">k</text><text x="494" y="1190" font-size="13">HD</text>
<path class="pd" d="M572,1198 C550,1225 470,1225 433,1198" marker-end="url(#pa)"/>
<text class="k" x="468" y="1243">k</text><text x="479" y="1244" font-size="9">3</text><text x="484" y="1247" font-size="12">CAR</text><text x="508" y="1235" font-size="12">3</text><text class="pb" x="514" y="1243" font-size="19">Car</text>
</g>
</svg>
